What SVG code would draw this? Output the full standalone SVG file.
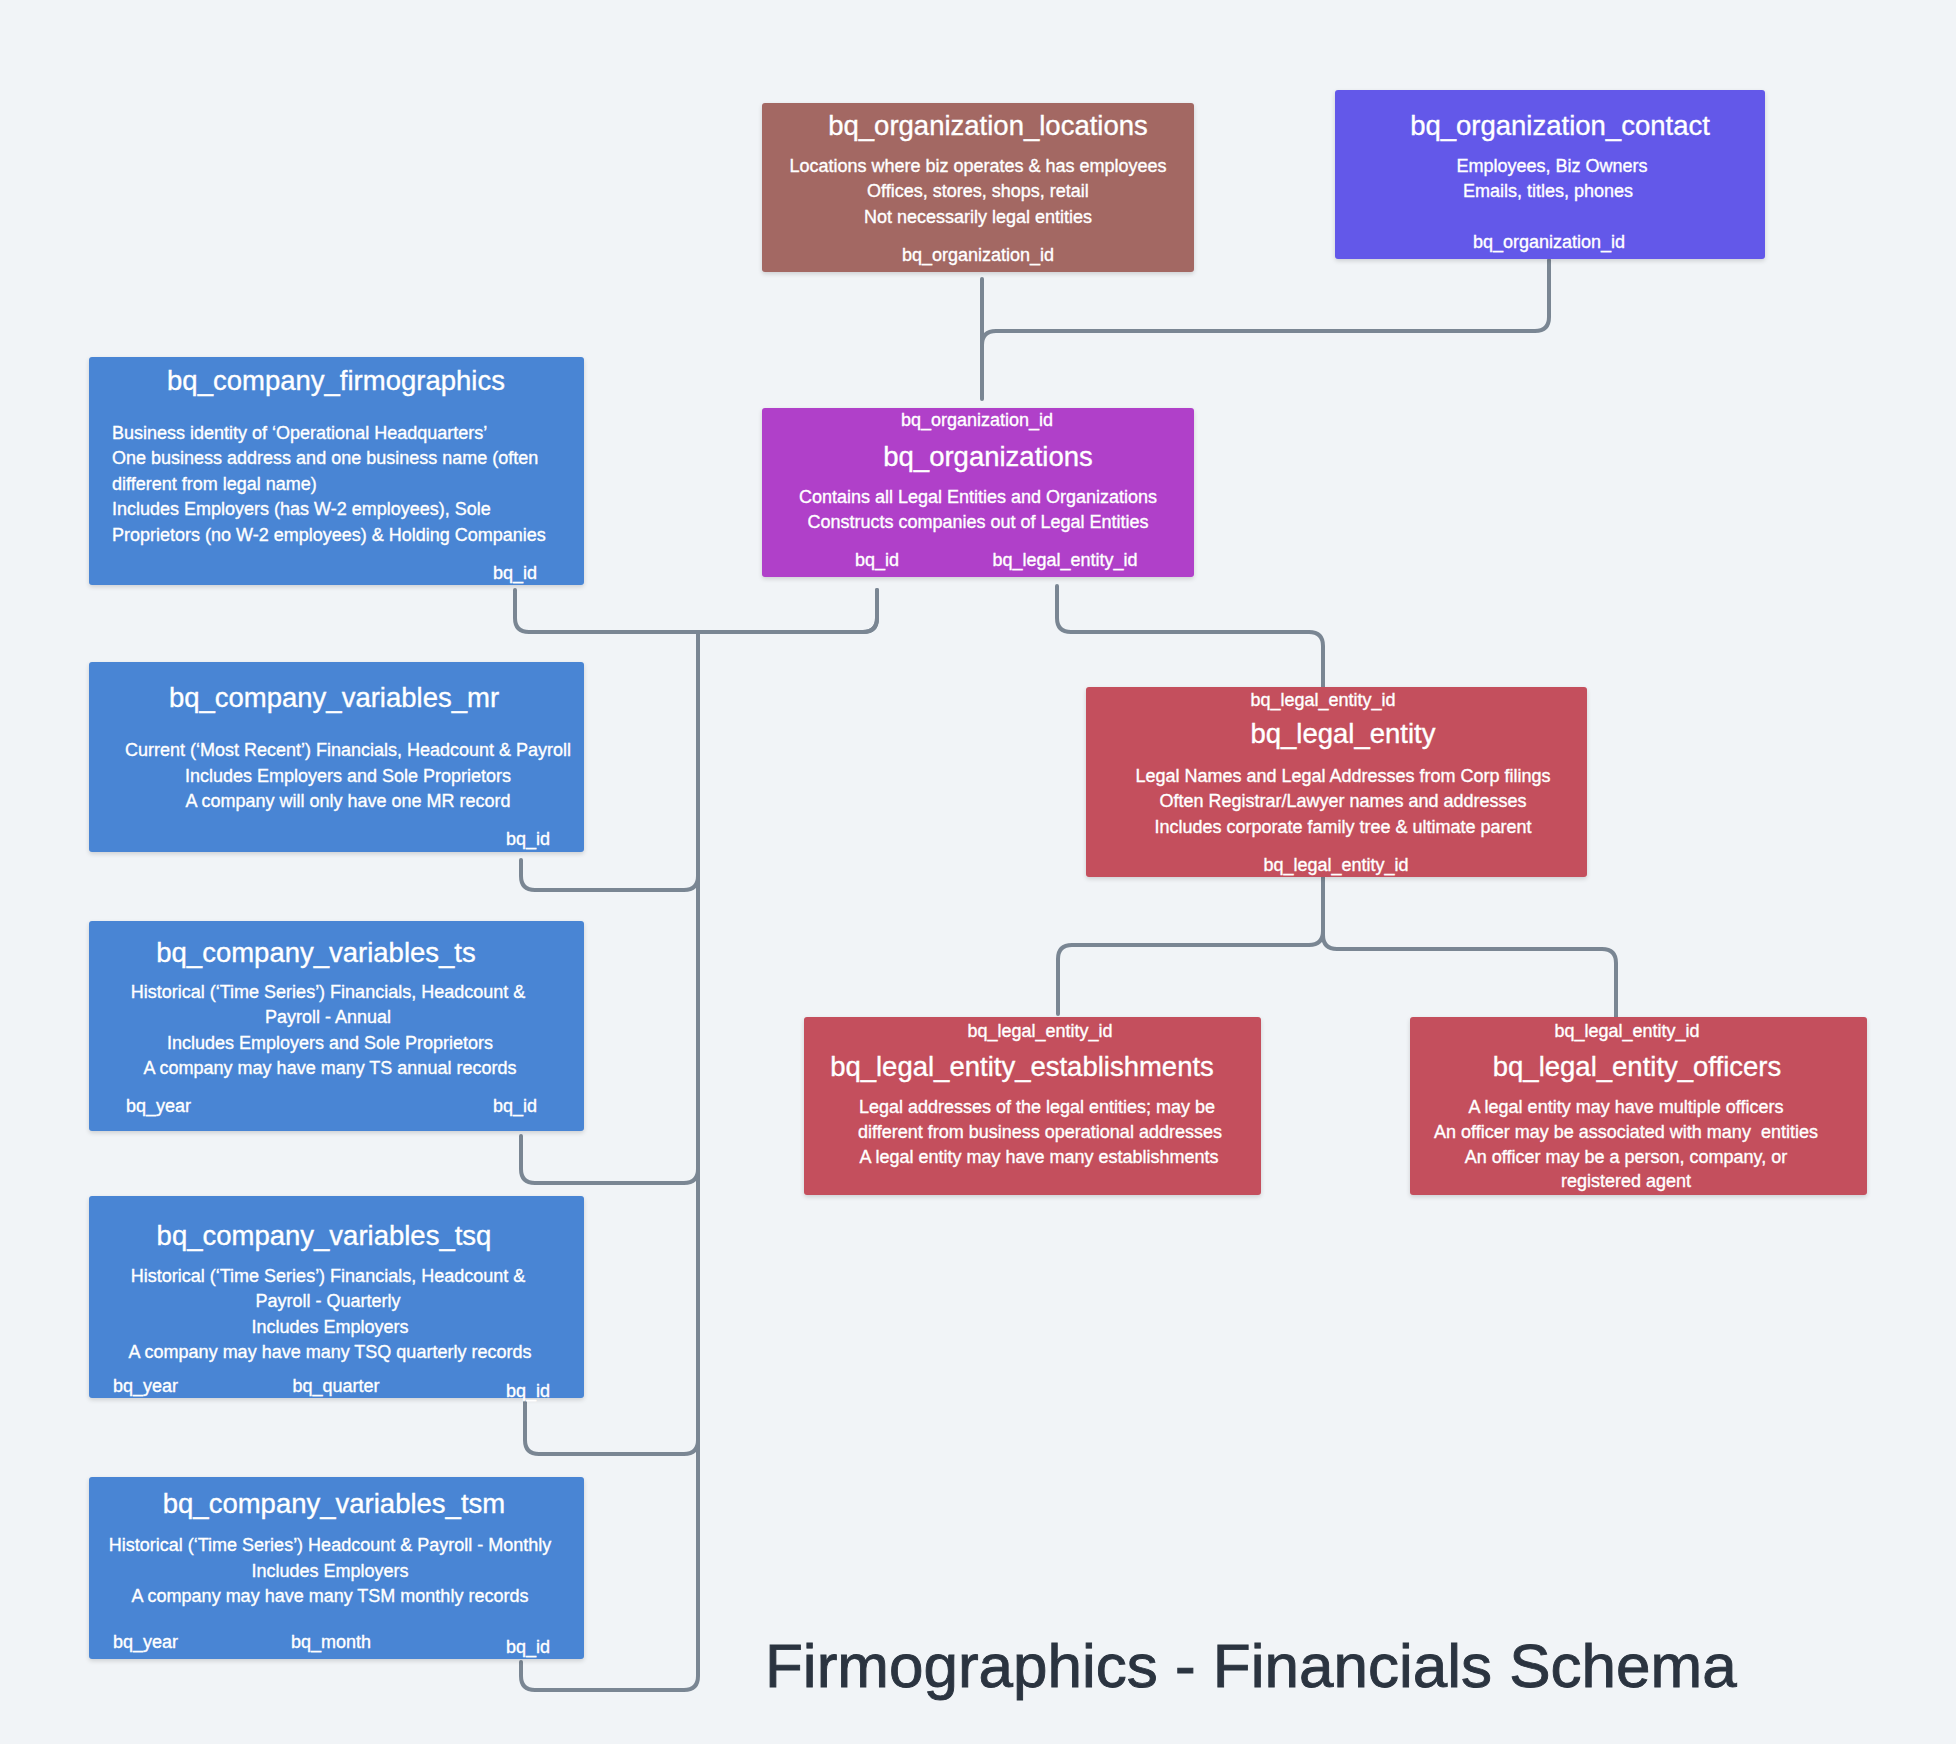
<svg xmlns="http://www.w3.org/2000/svg" width="1956" height="1744" viewBox="0 0 1956 1744">
<style>
  .t{font-family:"Liberation Sans",Arial,sans-serif;fill:#ffffff;stroke:#ffffff;stroke-width:0.35px}
  .h{font-size:27.5px}
  .b{font-size:18px}
  .m{text-anchor:middle}
  .c{fill:none;stroke:#7a8693;stroke-width:4;stroke-linecap:round;stroke-linejoin:round}
  .box{filter:url(#sh)}
</style>
<defs>
  <filter id="sh" x="-5%" y="-5%" width="110%" height="115%">
    <feDropShadow dx="0" dy="2" stdDeviation="2" flood-color="#000" flood-opacity="0.15"/>
  </filter>
</defs>
<rect x="0" y="0" width="1956" height="1744" fill="#f1f4f7"/>

<g id="connectors">
  <path class="c" d="M982 279 V399"/>
  <path class="c" d="M1549 260 V317 Q1549 331 1535 331 H996 Q982 331 982 345"/>
  <path class="c" d="M877 590 V618 Q877 632 863 632 H529 Q515 632 515 618 V590"/>
  <path class="c" d="M877 590 V618 Q877 632 863 632 H698 V876 Q698 890 684 890 H535 Q521 890 521 876 V860"/>
  <path class="c" d="M698 632 V1169 Q698 1183 684 1183 H535 Q521 1183 521 1169 V1136"/>
  <path class="c" d="M698 632 V1440 Q698 1454 684 1454 H539 Q525 1454 525 1440 V1402"/>
  <path class="c" d="M698 632 V1676 Q698 1690 684 1690 H535 Q521 1690 521 1676 V1662"/>
  <path class="c" d="M1057 586 V618 Q1057 632 1071 632 H1309 Q1323 632 1323 646 V687"/>
  <path class="c" d="M1323 877 V931 Q1323 945 1309 945 H1072 Q1058 945 1058 959 V1014"/>
  <path class="c" d="M1323 877 V935 Q1323 949 1337 949 H1602 Q1616 949 1616 963 V1017"/>
</g>

<g id="bq_organization_locations">
  <rect class="box" x="762" y="103" width="432" height="169" rx="3" fill="#a36764"/>
  <text class="t h m" x="988" y="135">bq_organization_locations</text>
  <text class="t b m" x="978" y="172">Locations where biz operates &amp; has employees</text>
  <text class="t b m" x="978" y="197">Offices, stores, shops, retail</text>
  <text class="t b m" x="978" y="223">Not necessarily legal entities</text>
  <text class="t b m" x="978" y="261">bq_organization_id</text>
</g>

<g id="bq_organization_contact">
  <rect class="box" x="1335" y="90" width="430" height="169" rx="3" fill="#6459e9"/>
  <text class="t h m" x="1560" y="135">bq_organization_contact</text>
  <text class="t b m" x="1552" y="172">Employees, Biz Owners</text>
  <text class="t b m" x="1548" y="197">Emails, titles, phones</text>
  <text class="t b m" x="1549" y="248">bq_organization_id</text>
</g>

<g id="bq_organizations">
  <rect class="box" x="762" y="408" width="432" height="169" rx="3" fill="#b03fc9"/>
  <text class="t b m" x="977" y="426">bq_organization_id</text>
  <text class="t h m" x="988" y="466">bq_organizations</text>
  <text class="t b m" x="978" y="503">Contains all Legal Entities and Organizations</text>
  <text class="t b m" x="978" y="528">Constructs companies out of Legal Entities</text>
  <text class="t b m" x="877" y="566">bq_id</text>
  <text class="t b m" x="1065" y="566">bq_legal_entity_id</text>
</g>

<g id="bq_legal_entity">
  <rect class="box" x="1086" y="687" width="501" height="190" rx="3" fill="#c44f5d"/>
  <text class="t b m" x="1323" y="706">bq_legal_entity_id</text>
  <text class="t h m" x="1343" y="743">bq_legal_entity</text>
  <text class="t b m" x="1343" y="782">Legal Names and Legal Addresses from Corp filings</text>
  <text class="t b m" x="1343" y="807">Often Registrar/Lawyer names and addresses</text>
  <text class="t b m" x="1343" y="833">Includes corporate family tree &amp; ultimate parent</text>
  <text class="t b m" x="1336" y="871">bq_legal_entity_id</text>
</g>

<g id="bq_legal_entity_establishments">
  <rect class="box" x="804" y="1017" width="457" height="178" rx="3" fill="#c44f5d"/>
  <text class="t b m" x="1040" y="1037">bq_legal_entity_id</text>
  <text class="t h m" x="1022" y="1076">bq_legal_entity_establishments</text>
  <text class="t b m" x="1037" y="1113">Legal addresses of the legal entities; may be</text>
  <text class="t b m" x="1040" y="1138">different from business operational addresses</text>
  <text class="t b m" x="1039" y="1163">A legal entity may have many establishments</text>
</g>

<g id="bq_legal_entity_officers">
  <rect class="box" x="1410" y="1017" width="457" height="178" rx="3" fill="#c44f5d"/>
  <text class="t b m" x="1627" y="1037">bq_legal_entity_id</text>
  <text class="t h m" x="1637" y="1076">bq_legal_entity_officers</text>
  <text class="t b m" x="1626" y="1113">A legal entity may have multiple officers</text>
  <text class="t b m" x="1626" y="1138" xml:space="preserve">An officer may be associated with many  entities</text>
  <text class="t b m" x="1626" y="1163">An officer may be a person, company, or</text>
  <text class="t b m" x="1626" y="1187">registered agent</text>
</g>

<g id="bq_company_firmographics">
  <rect class="box" x="89" y="357" width="495" height="228" rx="3" fill="#4985d4"/>
  <text class="t h m" x="336" y="390">bq_company_firmographics</text>
  <text class="t b" x="112" y="439">Business identity of ‘Operational Headquarters’</text>
  <text class="t b" x="112" y="464">One business address and one business name (often</text>
  <text class="t b" x="112" y="490">different from legal name)</text>
  <text class="t b" x="112" y="515">Includes Employers (has W-2 employees), Sole</text>
  <text class="t b" x="112" y="541">Proprietors (no W-2 employees) &amp; Holding Companies</text>
  <text class="t b m" x="515" y="579">bq_id</text>
</g>

<g id="bq_company_variables_mr">
  <rect class="box" x="89" y="662" width="495" height="190" rx="3" fill="#4985d4"/>
  <text class="t h m" x="334" y="707">bq_company_variables_mr</text>
  <text class="t b m" x="348" y="756">Current (‘Most Recent’) Financials, Headcount &amp; Payroll</text>
  <text class="t b m" x="348" y="782">Includes Employers and Sole Proprietors</text>
  <text class="t b m" x="348" y="807">A company will only have one MR record</text>
  <text class="t b m" x="528" y="845">bq_id</text>
</g>

<g id="bq_company_variables_ts">
  <rect class="box" x="89" y="921" width="495" height="210" rx="3" fill="#4985d4"/>
  <text class="t h m" x="316" y="962">bq_company_variables_ts</text>
  <text class="t b m" x="328" y="998">Historical (‘Time Series’) Financials, Headcount &amp;</text>
  <text class="t b m" x="328" y="1023">Payroll - Annual</text>
  <text class="t b m" x="330" y="1049">Includes Employers and Sole Proprietors</text>
  <text class="t b m" x="330" y="1074">A company may have many TS annual records</text>
  <text class="t b" x="126" y="1112">bq_year</text>
  <text class="t b m" x="515" y="1112">bq_id</text>
</g>

<g id="bq_company_variables_tsq">
  <rect class="box" x="89" y="1196" width="495" height="202" rx="3" fill="#4985d4"/>
  <text class="t h m" x="324" y="1245">bq_company_variables_tsq</text>
  <text class="t b m" x="328" y="1282">Historical (‘Time Series’) Financials, Headcount &amp;</text>
  <text class="t b m" x="328" y="1307">Payroll - Quarterly</text>
  <text class="t b m" x="330" y="1333">Includes Employers</text>
  <text class="t b m" x="330" y="1358">A company may have many TSQ quarterly records</text>
  <text class="t b" x="113" y="1392">bq_year</text>
  <text class="t b m" x="336" y="1392">bq_quarter</text>
  <text class="t b m" x="528" y="1397">bq_id</text>
</g>

<g id="bq_company_variables_tsm">
  <rect class="box" x="89" y="1477" width="495" height="182" rx="3" fill="#4985d4"/>
  <text class="t h m" x="334" y="1513">bq_company_variables_tsm</text>
  <text class="t b m" x="330" y="1551">Historical (‘Time Series’) Headcount &amp; Payroll - Monthly</text>
  <text class="t b m" x="330" y="1577">Includes Employers</text>
  <text class="t b m" x="330" y="1602">A company may have many TSM monthly records</text>
  <text class="t b" x="113" y="1648">bq_year</text>
  <text class="t b m" x="331" y="1648">bq_month</text>
  <text class="t b m" x="528" y="1653">bq_id</text>
</g>

<g id="title">
  <text x="765" y="1687" font-family="Liberation Sans, Arial, sans-serif" font-size="62" fill="#2b3440" stroke="#2b3440" stroke-width="0.9">Firmographics - Financials Schema</text>
</g>
</svg>
